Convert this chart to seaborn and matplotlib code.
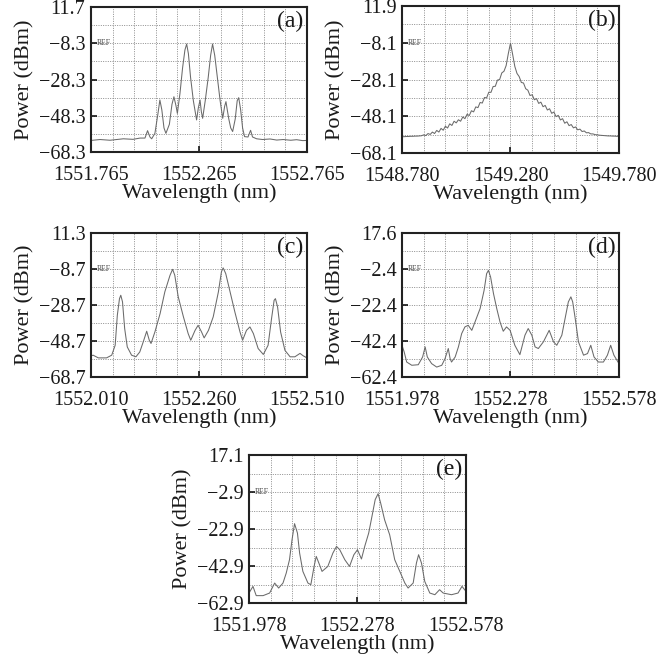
import numpy as np
import pandas as pd
import matplotlib
matplotlib.use("Agg")
import matplotlib.pyplot as plt
import seaborn as sns

# ---------------- spectra (wavelength in nm, power in dBm) ----------------
wl_a = [1551.765, 1551.807, 1551.853, 1551.915, 1551.960, 1551.992, 1552.015, 1552.027,
        1552.038, 1552.046, 1552.061, 1552.074, 1552.084, 1552.093, 1552.103, 1552.112,
        1552.128, 1552.140, 1552.149, 1552.159, 1552.165, 1552.177, 1552.189, 1552.200,
        1552.208, 1552.216, 1552.226, 1552.239, 1552.254, 1552.262, 1552.270, 1552.276,
        1552.282, 1552.294, 1552.308, 1552.319, 1552.328, 1552.338, 1552.350, 1552.363,
        1552.375, 1552.384, 1552.390, 1552.396, 1552.403, 1552.412, 1552.421, 1552.433,
        1552.442, 1552.449, 1552.458, 1552.467, 1552.476, 1552.492, 1552.504, 1552.513,
        1552.532, 1552.560, 1552.594, 1552.625, 1552.655, 1552.690, 1552.717, 1552.745,
        1552.765]
pw_a = [-61.9, -61.4, -61.8, -61.0, -61.3, -60.6, -60.6, -56.5,
        -60.0, -61.0, -58.0, -48.0, -39.6, -45.0, -55.0, -58.0,
        -53.0, -42.0, -37.8, -43.0, -47.0, -36.0, -22.0, -12.0,
        -8.7, -14.0, -27.0, -40.0, -50.6, -44.0, -39.6, -46.0,
        -49.7, -40.0, -27.0, -15.0, -8.7, -15.0, -27.0, -40.0,
        -49.7, -43.0, -40.5, -45.0, -50.0, -55.0, -57.0, -50.0,
        -40.0, -38.3, -45.0, -55.0, -59.8, -60.0, -56.3, -60.0,
        -61.0, -61.4, -61.1, -61.7, -61.4, -61.8, -61.5, -62.0,
        -61.9]

pw_b = [-59.2, -59.2, -59.1, -59.1, -59.0, -59.0, -58.9, -58.9, -58.8, -58.7,
        -58.2, -58.6, -57.5, -58.0, -56.7, -57.5, -55.8, -56.7, -54.7, -55.7,
        -53.5, -54.5, -52.2, -53.1, -50.8, -51.7, -50.0, -50.8, -48.5, -49.4,
        -47.0, -47.7, -45.1, -45.7, -43.0, -43.4, -40.6, -40.9, -37.9, -38.1,
        -35.0, -35.1, -31.9, -31.8, -28.4, -28.1, -24.5, -23.6, -20.5, -14.0,
        -8.3,
        -14.5, -21.0, -24.8, -26.5, -29.7, -30.0, -33.1, -33.9, -36.8, -36.4,
        -39.1, -38.5, -41.1, -40.4, -42.9, -42.2, -44.7, -44.0, -46.5, -45.8,
        -48.3, -47.6, -50.1, -49.4, -51.9, -51.1, -53.2, -52.6, -54.4, -53.9,
        -55.5, -55.1, -56.4, -56.1, -57.1, -57.0, -57.7, -57.7, -58.1, -58.2,
        -58.4, -58.5, -58.6, -58.7, -58.8, -58.8, -58.9, -58.9, -59.0, -59.0]
# OSA sweep grid for trace (b): 101 samples across the 1 nm span
wl_b = np.linspace(1548.780, 1549.780, len(pw_b))

wl_c = [1552.010, 1552.015, 1552.027, 1552.046, 1552.058, 1552.066, 1552.071, 1552.076,
        1552.079, 1552.083, 1552.088, 1552.094, 1552.104, 1552.114, 1552.123, 1552.131,
        1552.139, 1552.145, 1552.149, 1552.158, 1552.170, 1552.181, 1552.193, 1552.199,
        1552.204, 1552.212, 1552.224, 1552.235, 1552.241, 1552.251, 1552.258, 1552.266,
        1552.272, 1552.282, 1552.293, 1552.305, 1552.312, 1552.316, 1552.322, 1552.332,
        1552.343, 1552.355, 1552.361, 1552.370, 1552.378, 1552.386, 1552.397, 1552.409,
        1552.420, 1552.428, 1552.434, 1552.437, 1552.442, 1552.449, 1552.459, 1552.471,
        1552.482, 1552.494, 1552.501, 1552.510]
pw_c = [-57.0, -56.6, -58.1, -58.1, -56.6, -51.1, -34.4, -25.2,
        -23.3, -27.0, -41.8, -52.0, -56.6, -57.5, -54.8, -49.2,
        -43.3, -48.3, -50.1, -43.7, -33.5, -21.4, -12.2, -8.9,
        -12.2, -24.2, -35.3, -44.6, -48.3, -42.8, -40.0, -43.7,
        -47.0, -42.8, -35.3, -21.4, -10.3, -8.1, -11.3, -21.4,
        -32.5, -43.7, -48.3, -42.8, -40.9, -44.6, -52.9, -56.2,
        -51.1, -36.3, -26.1, -25.2, -29.8, -43.7, -53.9, -57.5,
        -57.5, -55.6, -56.9, -58.1]

wl_d = [1551.978, 1551.984, 1551.991, 1552.005, 1552.023, 1552.035, 1552.042, 1552.048,
        1552.060, 1552.074, 1552.088, 1552.097, 1552.106, 1552.111, 1552.115, 1552.125,
        1552.134, 1552.143, 1552.152, 1552.161, 1552.171, 1552.180, 1552.194, 1552.205,
        1552.212, 1552.217, 1552.223, 1552.231, 1552.240, 1552.249, 1552.258, 1552.267,
        1552.277, 1552.290, 1552.304, 1552.318, 1552.327, 1552.337, 1552.346, 1552.355,
        1552.369, 1552.385, 1552.397, 1552.406, 1552.420, 1552.429, 1552.438, 1552.445,
        1552.450, 1552.457, 1552.466, 1552.480, 1552.491, 1552.500, 1552.509, 1552.521,
        1552.535, 1552.546, 1552.555, 1552.564, 1552.578]
pw_d = [-44.8, -48.5, -54.1, -55.9, -55.6, -51.3, -45.7, -51.3,
        -55.0, -56.9, -55.9, -52.2, -46.6, -52.2, -54.1, -51.3,
        -45.7, -38.3, -34.6, -33.7, -36.5, -31.8, -24.4, -14.3,
        -5.0, -3.2, -6.9, -16.1, -24.4, -31.8, -37.0, -34.6,
        -36.5, -44.8, -50.0, -39.2, -35.5, -39.2, -45.7, -46.6,
        -42.9, -36.5, -42.9, -44.8, -39.2, -29.9, -20.7, -17.9,
        -20.7, -29.9, -42.9, -50.3, -49.4, -44.8, -51.3, -54.1,
        -54.1, -50.3, -44.8, -50.3, -55.0]

wl_e = [1551.978, 1551.989, 1551.998, 1552.017, 1552.035, 1552.049, 1552.060, 1552.072,
        1552.081, 1552.090, 1552.097, 1552.104, 1552.112, 1552.118, 1552.127, 1552.141,
        1552.149, 1552.158, 1552.164, 1552.173, 1552.180, 1552.196, 1552.210, 1552.220,
        1552.229, 1552.243, 1552.256, 1552.268, 1552.278, 1552.289, 1552.298, 1552.309,
        1552.318, 1552.327, 1552.335, 1552.342, 1552.353, 1552.367, 1552.381, 1552.395,
        1552.409, 1552.418, 1552.432, 1552.441, 1552.447, 1552.455, 1552.464, 1552.478,
        1552.492, 1552.505, 1552.515, 1552.538, 1552.556, 1552.567, 1552.578]
pw_e = [-57.5, -53.9, -58.9, -58.9, -57.5, -52.1, -54.8, -52.1,
        -46.7, -39.5, -28.7, -20.0, -25.1, -35.9, -45.8, -52.1,
        -53.0, -43.1, -37.7, -42.2, -45.8, -43.1, -35.9, -32.3,
        -34.1, -39.5, -43.1, -36.8, -34.1, -39.1, -32.3, -25.1,
        -16.1, -7.0, -3.8, -8.8, -17.9, -26.0, -39.5, -45.8,
        -52.1, -54.8, -52.1, -41.3, -36.8, -41.3, -51.2, -57.5,
        -58.4, -55.7, -57.5, -58.4, -57.5, -53.9, -56.6]

# ---------------- axis scales (OSA screen settings) ----------------
panel_tags = ["(a)", "(b)", "(c)", "(d)", "(e)"]
x_left = [1551.765, 1548.780, 1552.010, 1551.978, 1551.978]   # nm
x_div = [0.1, 0.1, 0.05, 0.06, 0.06]                          # nm / div
y_top = [11.7, 11.9, 11.3, 17.6, 17.1]                        # dBm
y_div = [10, 10, 10, 10, 10]                                  # dB / div
xtick_labels = [["1551.765", "1552.265", "1552.765"],
                ["1548.780", "1549.280", "1549.780"],
                ["1552.010", "1552.260", "1552.510"],
                ["1551.978", "1552.278", "1552.578"],
                ["1551.978", "1552.278", "1552.578"]]
ytick_labels = [["11.7", "−8.3", "−28.3", "−48.3", "−68.3"],
                ["11.9", "−8.1", "−28.1", "−48.1", "−68.1"],
                ["11.3", "−8.7", "−28.7", "−48.7", "−68.7"],
                ["17.6", "−2.4", "−22.4", "−42.4", "−62.4"],
                ["17.1", "−2.9", "−22.9", "−42.9", "−62.9"]]
traces = [(wl_a, pw_a), (wl_b, pw_b), (wl_c, pw_c), (wl_d, pw_d), (wl_e, pw_e)]

# axes rectangles in figure fraction [left, bottom, width, height]
rects = [[0.1364, 0.7700, 0.3238, 0.2194],
         [0.6027, 0.7685, 0.3253, 0.2224],
         [0.1364, 0.4297, 0.3238, 0.2179],
         [0.6027, 0.4297, 0.3253, 0.2179],
         [0.3733, 0.0877, 0.3253, 0.2239]]

sns.set_theme(style="white")
plt.rcParams["font.family"] = ["Liberation Serif", "DejaVu Serif"]
plt.rcParams["axes.unicode_minus"] = True

fig = plt.figure(figsize=(6.67, 6.61), dpi=100)

for k in range(5):
    ax = fig.add_axes(rects[k])
    wl, pw = traces[k]
    df = pd.DataFrame({"Wavelength (nm)": wl, "Power (dBm)": pw})
    sns.lineplot(data=df, x="Wavelength (nm)", y="Power (dBm)", ax=ax,
                 color="#6a6a6a", linewidth=0.75, estimator=None, sort=False)

    x0, dx = x_left[k], x_div[k]
    yt, dy = y_top[k], y_div[k]
    ax.set_xlim(x0, x0 + 10 * dx)
    ax.set_ylim(yt - 8 * dy, yt)

    ax.set_xticks([x0 + i * dx for i in (0, 5, 10)])
    ax.set_xticklabels(xtick_labels[k])
    ax.set_xticks([x0 + i * dx for i in range(11) if i not in (0, 5, 10)], minor=True)
    ax.set_yticks([yt - i * dy for i in (0, 2, 4, 6, 8)])
    ax.set_yticklabels(ytick_labels[k])
    ax.set_yticks([yt - i * dy for i in (1, 3, 5, 7)], minor=True)

    ax.grid(which="both", color="#8c8c8c", linestyle=(0, (1, 1.4)), linewidth=0.7)
    ax.tick_params(which="major", direction="in", length=4, width=1.1,
                   color="black", labelsize=14.5, labelcolor="#1a1a1a",
                   left=True, bottom=True, top=False, right=False)
    ax.tick_params(axis="x", which="major", pad=10)
    ax.tick_params(axis="y", which="major", pad=4)
    ax.tick_params(which="minor", length=0)
    for s in ax.spines.values():
        s.set_color("#222222")
        s.set_linewidth(1.5)

    ax.set_xlabel("Wavelength (nm)", fontsize=16, color="#1a1a1a", labelpad=-1)
    ax.set_ylabel("Power (dBm)", fontsize=16, color="#1a1a1a")
    ax.yaxis.set_label_coords(-0.26, 0.5)

    ax.text(0.985, 0.975, panel_tags[k], transform=ax.transAxes,
            ha="right", va="top", fontsize=17, color="#1a1a1a")
    ax.text(0.025, yt - 2 * dy, "REF", transform=ax.get_yaxis_transform(),
            ha="left", va="center", fontsize=5.5, color="#444444")

fig.savefig("out.png", dpi=100)
